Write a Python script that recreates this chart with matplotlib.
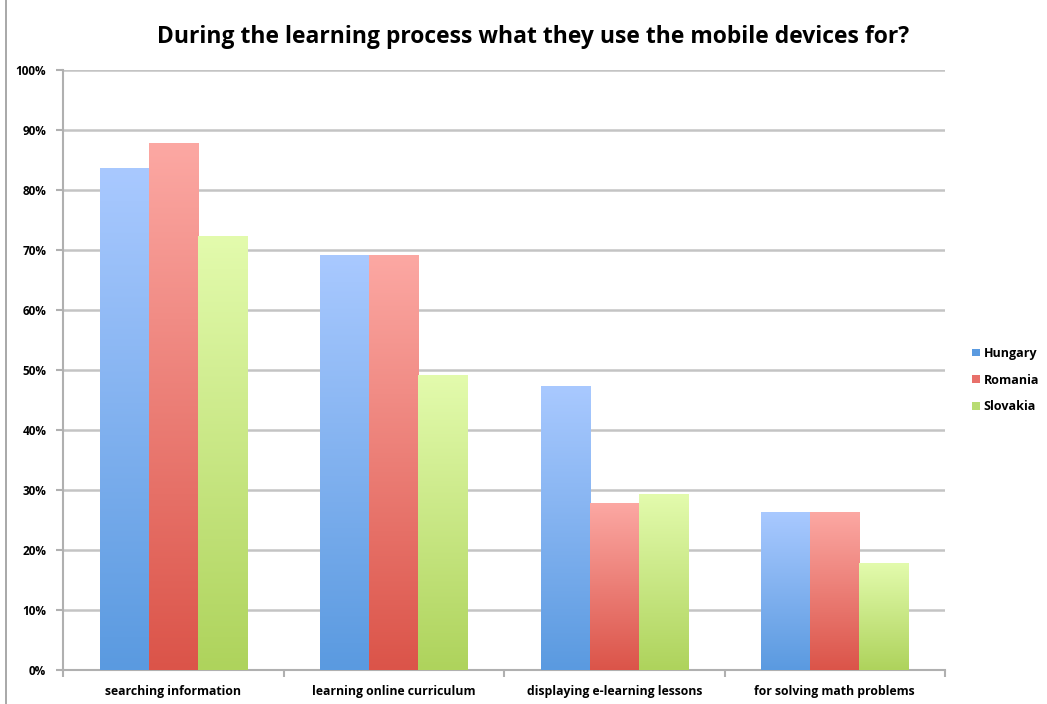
import numpy as np
import matplotlib.pyplot as plt
from matplotlib.colors import LinearSegmentedColormap
from matplotlib.patches import Patch
from matplotlib.lines import Line2D

categories = ["searching information", "learning online curriculum",
              "displaying e-learning lessons", "for solving math problems"]
countries = ["Hungary", "Romania", "Slovakia"]
hungary = [83.5, 69.0, 47.2, 26.2]
romania = [87.7, 69.0, 27.8, 26.3]
slovakia = [72.3, 49.0, 29.2, 17.8]
yticks = list(range(0, 101, 10))

# (top colour, bottom colour) for each series gradient
grads = [("#a9c9ff", "#5a9ae0"), ("#fca8a3", "#db5449"), ("#e3fbad", "#aed35c")]
legend_cols = ["#5a9ae0", "#e8706a", "#b8dc72"]

plt.rcParams['font.family'] = ['Open Sans', 'DejaVu Sans']

fig = plt.figure(figsize=(10.47, 7.04), dpi=100)
ax = fig.add_axes([0.0602, 0.0483, 0.8424, 0.8523])

x = np.arange(len(categories))
w = 0.223
series = [hungary, romania, slovakia]
grad = np.linspace(0, 1, 256).reshape(-1, 1)
for i, vals in enumerate(series):
    bars = ax.bar(x + (i - 1) * w, vals, w, color='none', edgecolor='none')
    cmap = LinearSegmentedColormap.from_list(countries[i], [grads[i][0], grads[i][1]])
    for b in bars:
        x0, y0 = b.get_x(), b.get_y()
        ax.imshow(grad, cmap=cmap, aspect='auto', zorder=3,
                  extent=[x0, x0 + b.get_width(), y0, y0 + b.get_height()],
                  interpolation='bicubic')

ax.set_xlim(-0.5, len(categories) - 0.5)
ax.set_ylim(0, 100)
ax.set_yticks(yticks)
ax.set_yticklabels([f"{t}%" for t in yticks], fontsize=8.5, fontweight='bold')
ax.yaxis.grid(True, color='#c4c4c4', lw=1.8)
ax.set_axisbelow(True)

ax.set_xticks(x)
ax.set_xticklabels(categories, fontsize=8.8, fontweight='bold')
ax.set_xticks(np.arange(len(categories) + 1) - 0.5, minor=True)
ax.tick_params(axis='x', which='major', length=0, pad=11)
ax.tick_params(axis='x', which='minor', length=5, color='#b0b0b0', width=1.5)
ax.tick_params(axis='y', length=5, color='#b0b0b0', width=1.5, pad=7)

for s in ['top', 'right']:
    ax.spines[s].set_visible(False)
for s in ['left', 'bottom']:
    ax.spines[s].set_color('#b0b0b0')
    ax.spines[s].set_linewidth(1.5)

fig.suptitle("During the learning process what they use the mobile devices for?",
             fontsize=16.5, fontweight='bold', x=0.509, y=0.965)

handles = [Patch(facecolor=c, edgecolor='none') for c in legend_cols]
leg = fig.legend(handles, countries, loc='center left', bbox_to_anchor=(0.918, 0.46),
                 frameon=False, handlelength=0.6, handleheight=0.6, handletextpad=0.3,
                 labelspacing=1.1, prop={'size': 9, 'weight': 'bold'})

# thin frame line on the left side of the figure
fig.add_artist(Line2D([0.006, 0.006], [0.0, 1.0], color='#9a9a9a', lw=1.2))

fig.savefig("out.png", dpi=100)
